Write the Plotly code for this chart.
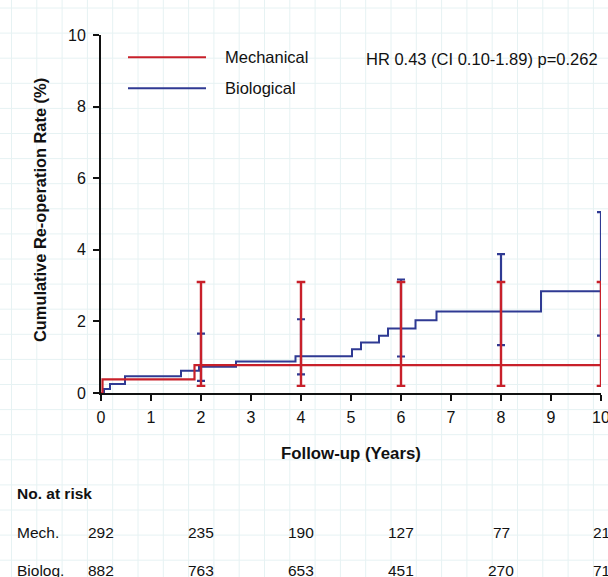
import plotly.graph_objects as go

# ---------------- data ----------------
mech_t = [0, 0.03, 1.87, 10]
mech_y = [0, 0.38, 0.78, 0.78]

bio_t = [0, 0.06, 0.18, 0.48, 1.6, 1.96, 2.7, 3.89, 5.02, 5.2, 5.56, 5.74, 6.29, 6.71, 8.8, 10]
bio_y = [0, 0.11, 0.25, 0.47, 0.62, 0.73, 0.88, 1.03, 1.22, 1.41, 1.60, 1.80, 2.03, 2.28, 2.84, 2.84]

ci_t = [2, 4, 6, 8, 10]
mech_ci_mid = [0.78, 0.78, 0.78, 0.78, 0.78]
mech_ci_lo = [0.2, 0.2, 0.2, 0.2, 0.2]
mech_ci_hi = [3.1, 3.1, 3.1, 3.1, 3.1]
bio_ci_mid = [0.73, 1.03, 1.80, 2.28, 2.84]
bio_ci_lo = [0.34, 0.52, 1.02, 1.34, 1.60]
bio_ci_hi = [1.66, 2.06, 3.17, 3.88, 5.05]

risk_t = [0, 2, 4, 6, 8, 10]
risk_mech = [292, 235, 190, 127, 77, 21]
risk_bio = [882, 763, 653, 451, 270, 71]

x_ticks = list(range(0, 11))
y_ticks = [0, 2, 4, 6, 8, 10]

RED = "#c8202a"
BLUE = "#2f3a93"
FONT = "Liberation Sans, Arial, sans-serif"

W, H = 608, 577
L, R, T, B = 101, 7, 35, 184
PW, PH = W - L - R, H - T - B


def px(x):
    return (x - L) / PW


def py(y):
    return (H - B - y) / PH


fig = go.Figure()

# background paper grid (scan texture)
shapes = []
gx = 11.5
while gx < W:
    shapes.append(dict(type="line", xref="paper", yref="paper", x0=px(gx), x1=px(gx),
                       y0=py(0), y1=py(H), line=dict(color="#e6f2f3", width=1), layer="below"))
    gx += 25.3
gy = 8.0
while gy < H:
    shapes.append(dict(type="line", xref="paper", yref="paper", x0=px(0), x1=px(W),
                       y0=py(gy), y1=py(gy), line=dict(color="#e6f2f3", width=1), layer="below"))
    gy += 25.1

# error bars (blue first, red on top)
fig.add_trace(go.Scatter(
    x=ci_t, y=bio_ci_mid, mode="markers", marker=dict(size=1, color="rgba(0,0,0,0)"),
    error_y=dict(type="data", symmetric=False,
                 array=[h - m for h, m in zip(bio_ci_hi, bio_ci_mid)],
                 arrayminus=[m - l for l, m in zip(bio_ci_lo, bio_ci_mid)],
                 color=BLUE, thickness=2.2, width=4),
    cliponaxis=False, showlegend=False, hoverinfo="skip"))

fig.add_trace(go.Scatter(
    x=bio_t, y=bio_y, mode="lines", line=dict(color=BLUE, width=2, shape="hv"),
    name="Biological", showlegend=False))

fig.add_trace(go.Scatter(
    x=mech_t, y=mech_y, mode="lines", line=dict(color=RED, width=2.2, shape="hv"),
    name="Mechanical", showlegend=False))

fig.add_trace(go.Scatter(
    x=ci_t, y=mech_ci_mid, mode="markers", marker=dict(size=1, color="rgba(0,0,0,0)"),
    error_y=dict(type="data", symmetric=False,
                 array=[h - m for h, m in zip(mech_ci_hi, mech_ci_mid)],
                 arrayminus=[m - l for l, m in zip(mech_ci_lo, mech_ci_mid)],
                 color=RED, thickness=2.4, width=4.3),
    cliponaxis=False, showlegend=False, hoverinfo="skip"))

# legend drawn manually
shapes.append(dict(type="line", xref="paper", yref="paper", x0=px(128), x1=px(206),
                   y0=py(57.3), y1=py(57.3), line=dict(color=RED, width=2)))
shapes.append(dict(type="line", xref="paper", yref="paper", x0=px(128), x1=px(206),
                   y0=py(88.3), y1=py(88.3), line=dict(color=BLUE, width=2)))

ann = []


def text(x, y, s, size=16, bold=False, xanchor="left", xref="paper", angle=0):
    ann.append(dict(x=x, y=y, xref=xref, yref="paper", text=("<b>%s</b>" % s) if bold else s,
                    showarrow=False, xanchor=xanchor, yanchor="middle", textangle=angle,
                    font=dict(family=FONT, size=size, color="#111111")))


text(px(223), py(57.3), "Mechanical", size=16.5)
text(px(223), py(88.3), "Biological", size=16.5)
text(px(600), py(58.5), "HR 0.43 (CI 0.10-1.89) p=0.262", size=16.5, xanchor="right")

text(px(351), py(453), "Follow-up (Years)", size=16.8, bold=True, xanchor="center")
text(px(40), py(210), "Cumulative Re-operation Rate (%)", size=16.4, bold=True, xanchor="center", angle=-90)

text(px(15), py(493), "No. at risk", size=15.5, bold=True)
text(px(15), py(532), "Mech.", size=15.5)
text(px(15), py(570), "Biolog.", size=15.5)
for t, m, b in zip(risk_t, risk_mech, risk_bio):
    text(t, py(532), str(m), size=15.5, xanchor="center", xref="x")
    text(t, py(570), str(b), size=15.5, xanchor="center", xref="x")

fig.update_layout(
    width=W, height=H, margin=dict(l=L, r=R, t=T, b=B, autoexpand=False),
    paper_bgcolor="white", plot_bgcolor="rgba(0,0,0,0)",
    shapes=shapes, annotations=ann,
    font=dict(family=FONT, size=16, color="#111111"),
    xaxis=dict(range=[0, 10], tickvals=x_ticks, ticks="outside", ticklen=6, tickwidth=1.5,
               tickcolor="#111111", showline=True, linecolor="#111111", linewidth=2,
               showgrid=False, zeroline=False, tickfont=dict(size=16), ticklabelstandoff=3,
               ticklabeloverflow="allow", automargin=False),
    yaxis=dict(range=[0, 10], tickvals=y_ticks, ticks="outside", ticklen=6, tickwidth=1.5,
               tickcolor="#111111", showline=True, linecolor="#111111", linewidth=2,
               showgrid=False, zeroline=False, tickfont=dict(size=16), ticklabelstandoff=4,
               ticklabeloverflow="allow", automargin=False),
)

fig.write_html("out.html", config={"displayModeBar": False},
               post_script="document.body.style.margin='0px';")
